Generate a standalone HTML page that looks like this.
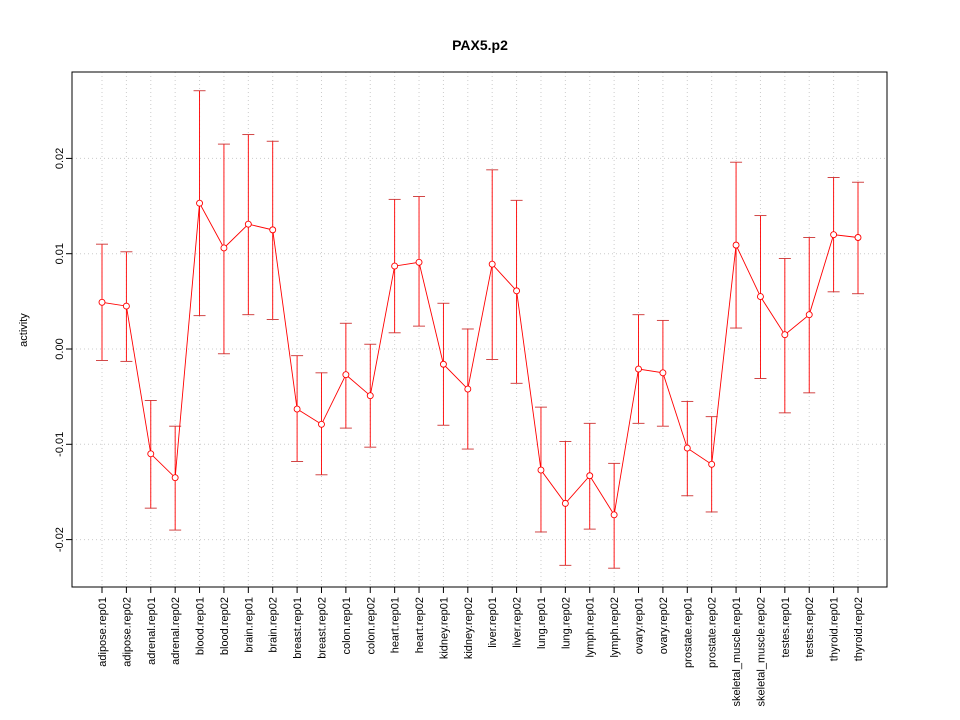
<!DOCTYPE html>
<html><head><meta charset="utf-8"><style>
html,body{margin:0;padding:0;background:#fff;}
svg{display:block;font-family:"Liberation Sans",Arial,sans-serif;}
</style></head><body>
<svg id="chart" width="960" height="720"></svg>
<script>
const categories=["adipose.rep01","adipose.rep02","adrenal.rep01","adrenal.rep02","blood.rep01","blood.rep02","brain.rep01","brain.rep02","breast.rep01","breast.rep02","colon.rep01","colon.rep02","heart.rep01","heart.rep02","kidney.rep01","kidney.rep02","liver.rep01","liver.rep02","lung.rep01","lung.rep02","lymph.rep01","lymph.rep02","ovary.rep01","ovary.rep02","prostate.rep01","prostate.rep02","skeletal_muscle.rep01","skeletal_muscle.rep02","testes.rep01","testes.rep02","thyroid.rep01","thyroid.rep02"];
const values=[0.0049,0.0045,-0.011,-0.0135,0.0153,0.0106,0.0131,0.0125,-0.0063,-0.0079,-0.0027,-0.0049,0.0087,0.0091,-0.0016,-0.0042,0.0089,0.0061,-0.0127,-0.0162,-0.0133,-0.0174,-0.0021,-0.0025,-0.0104,-0.0121,0.0109,0.0055,0.0015,0.0036,0.012,0.0117];
const upper=[0.011,0.0102,-0.0054,-0.0081,0.0271,0.0215,0.0225,0.0218,-0.0007,-0.0025,0.0027,0.0005,0.0157,0.016,0.0048,0.0021,0.0188,0.0156,-0.0061,-0.0097,-0.0078,-0.012,0.0036,0.003,-0.0055,-0.0071,0.0196,0.014,0.0095,0.0117,0.018,0.0175];
const lower=[-0.0012,-0.0013,-0.0167,-0.019,0.0035,-0.0005,0.0036,0.0031,-0.0118,-0.0132,-0.0083,-0.0103,0.0017,0.0024,-0.008,-0.0105,-0.0011,-0.0036,-0.0192,-0.0227,-0.0189,-0.023,-0.0078,-0.0081,-0.0154,-0.0171,0.0022,-0.0031,-0.0067,-0.0046,0.006,0.0058];
const yTicks=[-0.02,-0.01,0.00,0.01,0.02];
const yTickLabels=["-0.02","-0.01","0.00","0.01","0.02"];

const NS="http://www.w3.org/2000/svg";
const svg=document.getElementById('chart');
const L=72,R=887,T=72,B=587;
function y(v){return 349-v*9530;}
function x(i){return 102+i*(858-102)/(categories.length-1);}
function mk(tag,attrs,parent){const e=document.createElementNS(NS,tag);for(const k in attrs)e.setAttribute(k,attrs[k]);(parent||svg).appendChild(e);return e;}

categories.forEach((c,i)=>{
  const g=mk('line',{x1:x(i),x2:x(i),y1:T,y2:B,stroke:'#ccc','stroke-dasharray':'1,3'});
  
  
});
yTicks.forEach((t,i)=>{
  const g=mk('line',{x1:L,x2:R,y1:y(t),y2:y(t),stroke:'#ccc','stroke-dasharray':'1,3'});
  
  
  const tk=mk('line',{x1:L-6,x2:L,y1:y(t),y2:y(t),stroke:'#000'});
  
  
  const tx=mk('text',{x:L-9,y:y(t),'font-size':11,'text-anchor':'middle',transform:`rotate(-90 ${L-9} ${y(t)})`});
  tx.textContent=yTickLabels[i];
  
  
});
const fr=mk('rect',{x:L,y:T,width:R-L,height:B-T,fill:'none',stroke:'#000'});


categories.forEach((c,i)=>{
  const tk=mk('line',{x1:x(i),x2:x(i),y1:B,y2:B+6,stroke:'#000'});
  
  
  const tx=mk('text',{x:x(i)+4,y:B+10,'font-size':11,'text-anchor':'end',transform:`rotate(-90 ${x(i)+4} ${B+10})`});
  tx.textContent=c;
  
  
});
categories.forEach((c,i)=>{
  const eb=mk('line',{x1:x(i),x2:x(i),y1:y(upper[i]),y2:y(lower[i]),stroke:'#f00','stroke-width':0.9});
  
  
  [upper[i],lower[i]].forEach(v=>{
    const cp=mk('line',{x1:x(i)-6,x2:x(i)+6,y1:y(v),y2:y(v),stroke:'#c33','stroke-width':0.9});
    
    
  });
});
const pl=mk('polyline',{points:values.map((v,i)=>x(i)+','+y(v)).join(' '),fill:'none',stroke:'#f00','stroke-width':0.9});


values.forEach((v,i)=>{
  const p=mk('circle',{cx:x(i),cy:y(v),r:3,fill:'#fff',stroke:'#f00','stroke-width':0.9});
  
  
});
const ti=mk('text',{x:480,y:50,'font-size':14,'font-weight':'bold','text-anchor':'middle'});
ti.textContent='PAX5.p2';


const yt=mk('text',{x:27,y:330,'font-size':11,'text-anchor':'middle',transform:'rotate(-90 27 330)'});
yt.textContent='activity';


</script>
</body></html>
